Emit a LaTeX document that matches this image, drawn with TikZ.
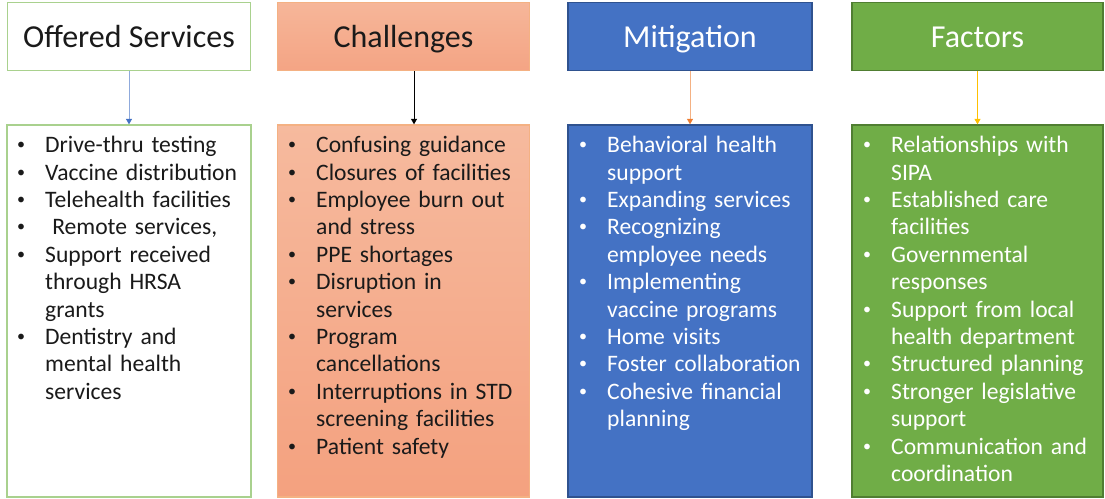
\documentclass[tikz,border=0pt]{standalone}
\usepackage{fontspec}
\usepackage{graphicx}
\setmainfont{Carlito}
\usetikzlibrary{arrows.meta}

\definecolor{svcedge}{HTML}{A9D18E}
\definecolor{chedge}{HTML}{F4B183}
\definecolor{chtop}{HTML}{F6BA9E}
\definecolor{chbot}{HTML}{F4A17F}
\definecolor{chhtop}{HTML}{F6B699}
\definecolor{chhbot}{HTML}{F4A484}
\definecolor{mitfill}{HTML}{4472C4}
\definecolor{mitedge}{HTML}{2F528F}
\definecolor{facfill}{HTML}{70AD47}
\definecolor{facedge}{HTML}{507E32}
\definecolor{arrblue}{HTML}{8FAADC}
\definecolor{arrbluetip}{HTML}{4472C4}
\definecolor{arrorange}{HTML}{F4B183}
\definecolor{arrorangetip}{HTML}{ED7D31}
\definecolor{arrgold}{HTML}{FFC000}
\definecolor{txtdark}{HTML}{1A1A1A}

% fixed line pitch inside the lists
\newcommand\fixlines{\lineskiplimit=-50pt\relax\lineskip=0pt\relax}
% small list bullet
\newcommand\dotmark{\raisebox{0.12em}{\scalebox{0.68}{\textbullet}}}
% one bullet item with a hanging indent; \newline keeps the indent
\newcommand\bitem{\par\noindent\hangindent=28pt\hangafter=1\makebox[28pt][l]{\dotmark}}
\newcommand\bfirst{\fixlines\bitem\rule{0pt}{25.3pt}}

\begin{document}
\begin{tikzpicture}[x=1pt,y=-1pt,
  head/.style={draw, line width=1.3pt, minimum height=68pt, inner sep=0pt,
    font=\fontsize{32}{38}\selectfont, text height=22pt, text depth=0pt},
  panel/.style={draw, line width=1.3pt, minimum height=372pt, inner sep=0pt},
  bullets/.style={anchor=north west, inner sep=0pt, text width=236pt, align=left,
    font=\fontsize{23.6}{27.4}\selectfont},
  link/.style={line width=0.9pt, -{Triangle[width=6pt,length=5.5pt]}}
]
\useasboundingbox (0,0) rectangle (1105,498);

% column headers
\node[head, draw=svcedge, fill=white, text=txtdark, minimum width=243.4pt] (hs) at (129,36.7) {Offered Services};
\node[head, draw=chedge, top color=chhtop, bottom color=chhbot, text=txtdark, minimum width=251.5pt] (hc) at (403.5,36.7) {Challenges};
\node[head, draw=mitedge, fill=mitfill, text=white, minimum width=244pt] (hm) at (690,36.7) {Mitigation};
\node[head, draw=facedge, fill=facfill, text=white, minimum width=251pt] (hf) at (977.5,36.7) {Factors};

% column bodies
\node[panel, draw=svcedge, fill=white, minimum width=244pt] (bs) at (129,311) {};
\node[panel, draw=chedge, top color=chtop, bottom color=chbot, minimum width=251.5pt] (bc) at (403.5,311) {};
\node[panel, draw=mitedge, fill=mitfill, minimum width=244pt] (bm) at (690,311) {};
\node[panel, draw=facedge, fill=facfill, minimum width=251pt] (bf) at (977.5,311) {};

% connectors
\draw[link, arrblue, -{Triangle[width=6pt,length=5.5pt,color=arrbluetip]}] (hs) -- (bs);
\draw[link, black] ([xshift=10.5pt]hc.south) -- ([xshift=10.5pt]bc.north);
\draw[link, arrorange, -{Triangle[width=6pt,length=5.5pt,color=arrorangetip]}] (hm) -- (bm);
\draw[link, arrgold] (hf) -- (bf);

% lists
\node[bullets, text=txtdark] (ls) at (17,125) {%
\bfirst Drive-thru testing
\bitem Vaccine distribution
\bitem Telehealth facilities
\bitem\hspace{0.3em}Remote services,
\bitem Support received\newline through HRSA\newline grants
\bitem Dentistry and\newline mental health\newline services\par};

\node[bullets, text=txtdark] (lc) at (288,125) {%
\bfirst Confusing guidance
\bitem Closures of facilities
\bitem Employee burn out\newline and stress
\bitem PPE shortages
\bitem Disruption in\newline services
\bitem Program\newline cancellations
\bitem Interruptions in STD\newline screening facilities
\bitem Patient safety\par};

\node[bullets, text=white] (lm) at (579,125) {%
\bfirst Behavioral health\newline support
\bitem Expanding services
\bitem Recognizing\newline employee needs
\bitem Implementing\newline vaccine programs
\bitem Home visits
\bitem Foster collaboration
\bitem Cohesive financial\newline planning\par};

\node[bullets, text=white] (lf) at (863,125) {%
\bfirst Relationships with\newline SIPA
\bitem Established care\newline facilities
\bitem Governmental\newline responses
\bitem Support from local\newline health department
\bitem Structured planning
\bitem Stronger legislative\newline support
\bitem Communication and\newline coordination\par};
\end{tikzpicture}
\end{document}
